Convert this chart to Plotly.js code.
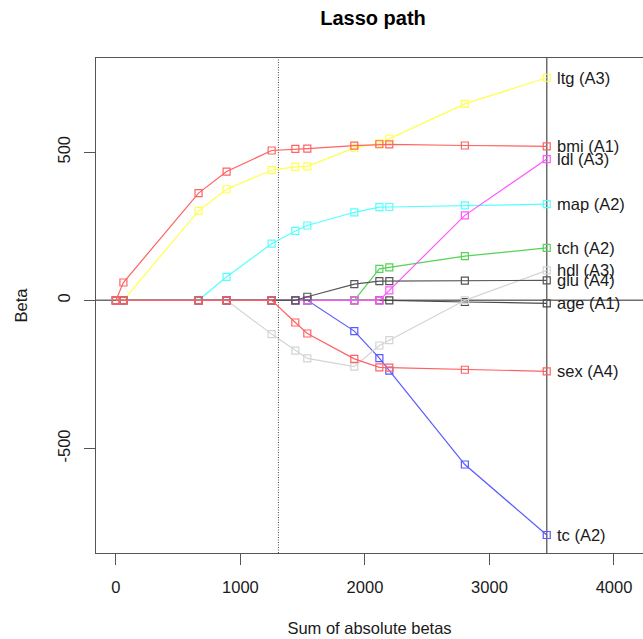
<!DOCTYPE html>
<html><head><meta charset="utf-8">
<script src="https://cdn.plot.ly/plotly-3.0.1.min.js"></script>
<style>html,body{margin:0;padding:0;background:#fff;overflow:hidden}</style>
</head><body><div id="chart" style="width:643px;height:639px"></div>
<script>
// Sum of absolute betas at each step of the path
const sumAbsBeta = [0, 60.119, 663.670, 888.910, 1250.696, 1440.798, 1537.066, 1914.571, 2115.737, 2195.559, 2802.371, 3460.004];
// Coefficient paths
const age = [0, 0, 0, 0, 0, 0, 0, 0, 0, 0, -5.718, -10.012];
const sex = [0, 0, 0, 0, 0, -74.917, -111.979, -197.757, -226.134, -227.176, -234.395, -239.819];
const bmi = [0, 60.119, 361.895, 434.758, 505.660, 511.348, 512.044, 522.265, 526.885, 526.391, 522.649, 519.840];
const map = [0, 0, 0, 79.236, 191.270, 234.155, 252.527, 297.160, 314.389, 314.950, 320.343, 324.390];
const tc  = [0, 0, 0, 0, 0, 0, 0, -103.946, -195.106, -237.341, -554.266, -792.184];
const ldl = [0, 0, 0, 0, 0, 0, 0, 0, 0, 33.628, 286.736, 476.746];
const hdl = [0, 0, 0, 0, -114.101, -169.711, -196.045, -223.926, -152.477, -134.599, 0, 101.045];
const tch = [0, 0, 0, 0, 0, 0, 0, 0, 106.343, 111.384, 148.900, 177.064];
const ltg = [0, 0, 301.775, 374.916, 439.665, 450.667, 452.393, 514.749, 529.916, 545.483, 663.033, 751.279];
const glu = [0, 0, 0, 0, 0, 0, 12.078, 54.768, 64.487, 64.607, 66.331, 67.625];
// Variable names, groups (drawing order)
const varNames = ['age', 'tc', 'tch', 'hdl', 'map', 'ltg', 'ldl', 'glu', 'bmi', 'sex'];
const varGroups = ['A1', 'A2', 'A2', 'A3', 'A2', 'A3', 'A3', 'A4', 'A1', 'A4'];
const varValues = [age, tc, tch, hdl, map, ltg, ldl, glu, bmi, sex];
const varColors = ['#4a4a4a', '#5a5aff', '#55d455', '#d4d4d4', '#55ffff', '#ffff50', '#ff55ff', '#565656', '#ff6262', '#ff6262'];
// Selected model (dotted line)
const selectedSum = 1305;
const xTicks = [0, 1000, 2000, 3000, 4000];
const yTicks = [-500, 0, 500];

const FONT = 'Arial, "Liberation Sans", sans-serif';
const traces = varNames.map((n, i) => ({
  type: 'scatter', mode: 'lines+markers', name: n,
  x: sumAbsBeta, y: varValues[i],
  line: {color: varColors[i], width: 1.2},
  marker: {symbol: 'square-open', size: 7, color: varColors[i], line: {width: 1.2, color: varColors[i]}},
  showlegend: false, hoverinfo: 'skip'
}));
const lastX = sumAbsBeta[sumAbsBeta.length - 1];
const annotations = varNames.map((n, i) => ({
  x: lastX, y: varValues[i][varValues[i].length - 1], xref: 'x', yref: 'y',
  text: n + ' (' + varGroups[i] + ')', showarrow: false, xanchor: 'left', yanchor: 'middle',
  xshift: 8, font: {family: FONT, size: 16.5, color: '#1a1a1a'}
}));
const layout = {
  width: 643, height: 639,
  margin: {l: 96, r: 0, t: 58, b: 86},
  paper_bgcolor: '#fff', plot_bgcolor: '#fff',
  font: {family: FONT, size: 16.5, color: '#1a1a1a'},
  title: {text: '<b>Lasso path</b>', font: {family: FONT, size: 20, color: '#000'},
          xref: 'container', x: 373 / 643, xanchor: 'center', yref: 'container', y: 1 - 18 / 639, yanchor: 'middle'},
  xaxis: {range: [-160, 4233], tickvals: xTicks, ticktext: xTicks.map(String), ticks: 'outside', ticklen: 11,
          tickwidth: 1, tickcolor: '#555', showgrid: false, zeroline: false, showline: true, mirror: true,
          linecolor: '#555', linewidth: 1, tickfont: {size: 16.5}, ticklabelstandoff: 8,
          title: {text: 'Sum of absolute betas', font: {size: 16.5}, standoff: 27}},
  yaxis: {range: [-853, 818], tickvals: yTicks, ticktext: yTicks.map(String), ticks: 'outside', ticklen: 11,
          tickwidth: 1, tickcolor: '#555', showgrid: false, zeroline: false, showline: true, mirror: false,
          linecolor: '#555', linewidth: 1, tickangle: -90, tickfont: {size: 16.5}, ticklabelstandoff: 7,
          title: {text: 'Beta', font: {size: 16.5}, standoff: 23}},
  shapes: [
    {type: 'line', xref: 'paper', x0: 0, x1: 1, yref: 'y', y0: 0, y1: 0, line: {color: '#6e6e6e', width: 1.5}, layer: 'below'},
    {type: 'line', xref: 'x', x0: lastX, x1: lastX, yref: 'paper', y0: 0, y1: 1, line: {color: '#6e6e6e', width: 1.5}, layer: 'below'},
    {type: 'line', xref: 'x', x0: selectedSum, x1: selectedSum, yref: 'paper', y0: 0, y1: 1, line: {color: '#444', width: 1, dash: '1px,1.5px'}, layer: 'below'}
  ],
  annotations: annotations
};
Plotly.newPlot('chart', traces, layout, {displayModeBar: false, staticPlot: true});
</script>
</body></html>
